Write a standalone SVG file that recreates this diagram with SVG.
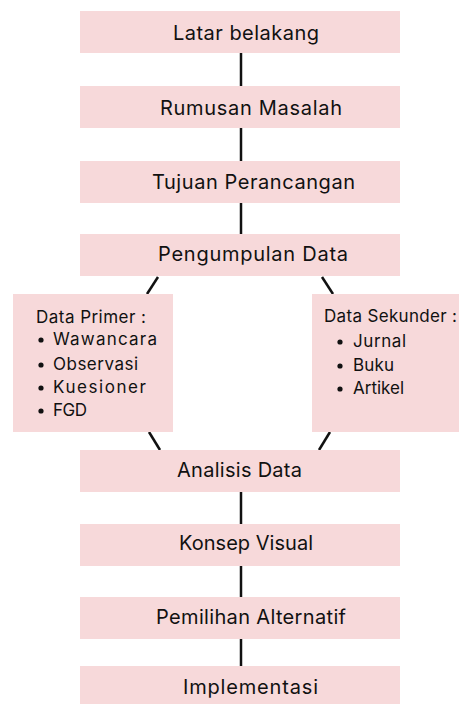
<svg xmlns="http://www.w3.org/2000/svg" width="459" height="704" viewBox="0 0 459 704">
<style>
.box{fill:#f7d9da}
.t{font-family:Inter,"Open Sans",sans-serif;font-size:20px;fill:#111}
.s{font-family:Inter,"Open Sans",sans-serif;font-size:17px;fill:#111}
.c{stroke:#111;stroke-width:2.5;fill:none}
.b{fill:#111}
</style>
<rect width="459" height="704" fill="#fff"/>
<g id="connectors">
<line class="c" x1="241" y1="53" x2="241" y2="86"/>
<line class="c" x1="241" y1="128" x2="241" y2="161"/>
<line class="c" x1="241" y1="203" x2="241" y2="234"/>
<line class="c" x1="158" y1="277" x2="147" y2="294"/>
<line class="c" x1="322" y1="277" x2="333" y2="294"/>
<line class="c" x1="149" y1="432" x2="160" y2="450"/>
<line class="c" x1="330" y1="432" x2="319" y2="450"/>
<line class="c" x1="241" y1="492" x2="241" y2="524"/>
<line class="c" x1="241" y1="566" x2="241" y2="597"/>
<line class="c" x1="241" y1="639" x2="241" y2="666"/>
</g>
<g id="latar"><rect class="box" x="80" y="11" width="320" height="42"/><text class="t" x="173" y="40" textLength="146">Latar belakang</text></g>
<g id="rumusan"><rect class="box" x="80" y="86" width="320" height="42"/><text class="t" x="160" y="115" textLength="182">Rumusan Masalah</text></g>
<g id="tujuan"><rect class="box" x="80" y="161" width="320" height="42"/><text class="t" x="152" y="189" textLength="203">Tujuan Perancangan</text></g>
<g id="pengumpulan"><rect class="box" x="80" y="234" width="320" height="42"/><text class="t" x="158" y="261" textLength="190">Pengumpulan Data</text></g>
<g id="primer"><rect class="box" x="13" y="294" width="160" height="138"/>
<text class="s" x="36" y="323" textLength="110">Data Primer :</text>
<circle class="b" cx="41" cy="340" r="2.6"/><text class="s" x="53" y="345" textLength="104">Wawancara</text>
<circle class="b" cx="41" cy="365" r="2.6"/><text class="s" x="53" y="370" textLength="85">Observasi</text>
<circle class="b" cx="41" cy="388" r="2.6"/><text class="s" x="53" y="393" textLength="93">Kuesioner</text>
<circle class="b" cx="41" cy="411" r="2.6"/><text class="s" x="53" y="416" textLength="34">FGD</text>
</g>
<g id="sekunder"><rect class="box" x="312" y="294" width="147" height="138"/>
<text class="s" x="324" y="322" textLength="133">Data Sekunder :</text>
<circle class="b" cx="340" cy="342" r="2.6"/><text class="s" x="353" y="347" textLength="53">Jurnal</text>
<circle class="b" cx="340" cy="366" r="2.6"/><text class="s" x="353" y="371" textLength="41">Buku</text>
<circle class="b" cx="340" cy="389" r="2.6"/><text class="s" x="353" y="394" textLength="51">Artikel</text>
</g>
<g id="analisis"><rect class="box" x="80" y="450" width="320" height="42"/><text class="t" x="177" y="477" textLength="125">Analisis Data</text></g>
<g id="konsep"><rect class="box" x="80" y="524" width="320" height="42"/><text class="t" x="179" y="550" textLength="134">Konsep Visual</text></g>
<g id="pemilihan"><rect class="box" x="80" y="597" width="320" height="42"/><text class="t" x="156" y="624" textLength="190">Pemilihan Alternatif</text></g>
<g id="implementasi"><rect class="box" x="80" y="666" width="320" height="42"/><text class="t" x="183" y="694" textLength="135">Implementasi</text></g>
</svg>
